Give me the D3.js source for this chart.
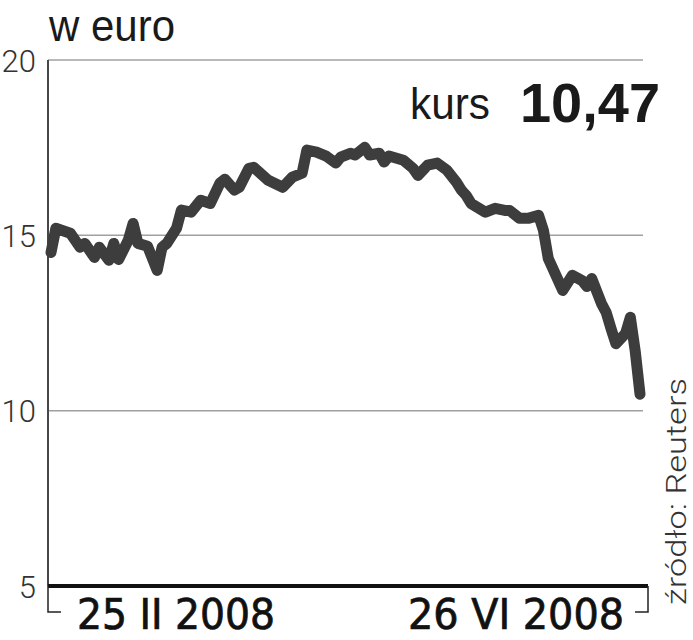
<!DOCTYPE html>
<html>
<head>
<meta charset="utf-8">
<script src="https://cdn.jsdelivr.net/npm/d3@7/dist/d3.min.js"></script>
<style>
  html, body { margin: 0; padding: 0; background: #fff; }
  svg { display: block; }
</style>
</head>
<body>
<svg id="chart" width="693" height="640"></svg>
<script>
// Days since 25 II 2008 (x position of each reading)
const dayOffsets = [0, 1, 4, 6, 7, 9, 10, 12, 13, 14, 16, 17, 18, 20, 22, 23, 24, 26, 27, 29,
  31, 33, 35, 36, 38, 39, 41, 42, 45, 48, 50, 52, 53, 55, 57, 59, 60, 62, 63, 65,
  66, 68, 69, 70, 73, 75, 76, 78, 80, 82, 84, 85, 86, 87, 90, 92, 94, 95, 97, 99,
  101, 102, 103, 106, 108, 110, 111, 112, 114, 115, 116, 117, 119, 120, 121, 122];
// Share price in euro
const prices = [14.51, 15.20, 15.06, 14.66, 14.77, 14.37, 14.66, 14.29, 14.77, 14.31, 14.86, 15.34, 14.77, 14.69, 14.00, 14.66, 14.77, 15.20, 15.72, 15.66,
  16.00, 15.91, 16.49, 16.60, 16.29, 16.37, 16.91, 16.94, 16.57, 16.37, 16.66, 16.77, 17.43, 17.37, 17.26, 17.06, 17.23, 17.34, 17.29, 17.51,
  17.29, 17.34, 17.09, 17.26, 17.14, 16.91, 16.71, 17.00, 17.06, 16.86, 16.51, 16.29, 16.14, 15.91, 15.66, 15.77, 15.71, 15.71, 15.49, 15.49,
  15.57, 15.14, 14.34, 13.43, 13.86, 13.71, 13.54, 13.77, 13.06, 12.80, 12.34, 11.91, 12.20, 12.66, 11.71, 10.47];

const yTicks = [5, 10, 15, 20];
const gridTicks = [10, 15, 20];
const xLabels = ["25 II 2008", "26 VI 2008"];
const unitLabel = "w euro";
const lastLabel = "kurs";
const lastValue = "10,47";
const sourceLabel = "źródło: Reuters";

const svg = d3.select("#chart");

const x = d3.scaleLinear().domain([0, 122]).range([51, 640]);
const y = d3.scaleLinear().domain([5, 20]).range([586, 60]);

const left = 48, gridRight = 643, baseRight = 648;

// gridlines
svg.append("g").selectAll("line").data(gridTicks).join("line")
  .attr("x1", left).attr("x2", gridRight)
  .attr("y1", d => y(d)).attr("y2", d => y(d))
  .attr("stroke", "#a0a0a0").attr("stroke-width", 1.5);

// left axis line
svg.append("line")
  .attr("x1", left).attr("x2", left)
  .attr("y1", y(20)).attr("y2", y(5))
  .attr("stroke", "#474747").attr("stroke-width", 2);

// y tick labels via axis
const yAxis = d3.axisLeft(y).tickValues(yTicks).tickSize(0).tickPadding(0).tickFormat(d3.format("d"));
const gy = svg.append("g").attr("transform", "translate(36,0)").call(yAxis);
gy.select(".domain").remove();
gy.selectAll("text")
  .attr("font-family", "Roboto, 'Liberation Sans', sans-serif")
  .attr("font-weight", 300)
  .attr("font-size", 31)
  .attr("fill", "#333")
  .attr("dy", "0.36em");

// data line
const line = d3.line()
  .x((d, i) => x(dayOffsets[i]))
  .y(d => y(d))
  .curve(d3.curveLinear);
svg.append("path")
  .datum(prices)
  .attr("d", line)
  .attr("fill", "none")
  .attr("stroke", "#3d3d3d")
  .attr("stroke-width", 11)
  .attr("stroke-linejoin", "round")
  .attr("stroke-linecap", "round");

// baseline
svg.append("line")
  .attr("x1", left).attr("x2", baseRight)
  .attr("y1", y(5)).attr("y2", y(5))
  .attr("stroke", "#111").attr("stroke-width", 4);

// brackets
svg.append("path")
  .attr("d", `M${left},${y(5)} V612 H61`)
  .attr("fill", "none").attr("stroke", "#222").attr("stroke-width", 1.5);
svg.append("path")
  .attr("d", `M${baseRight},${y(5)} V612 H635`)
  .attr("fill", "none").attr("stroke", "#222").attr("stroke-width", 1.5);

// x labels
const xFont = "'Liberation Sans Narrow', 'DejaVu Sans Condensed', 'Liberation Sans', sans-serif";
svg.append("text")
  .attr("x", x(0) + 26).attr("y", 629)
  .attr("font-family", xFont).attr("font-size", 42)
  .attr("fill", "#111").attr("stroke", "#111").attr("stroke-width", 0.7)
  .attr("textLength", 198).attr("lengthAdjust", "spacingAndGlyphs")
  .text(xLabels[0]);
svg.append("text")
  .attr("x", x(122) - 16 - 216).attr("y", 629)
  .attr("font-family", xFont).attr("font-size", 42)
  .attr("fill", "#111").attr("stroke", "#111").attr("stroke-width", 0.7)
  .attr("textLength", 216).attr("lengthAdjust", "spacingAndGlyphs")
  .text(xLabels[1]);

// title
svg.append("text")
  .attr("x", 49).attr("y", 41)
  .attr("font-family", "'Liberation Sans', Arial, sans-serif")
  .attr("font-size", 44)
  .attr("fill", "#1a1a1a")
  .attr("textLength", 126).attr("lengthAdjust", "spacingAndGlyphs")
  .text(unitLabel);

// last value annotation
svg.append("text")
  .attr("x", 410).attr("y", 119)
  .attr("font-family", "'Liberation Sans', Arial, sans-serif")
  .attr("font-size", 44)
  .attr("fill", "#1a1a1a")
  .attr("textLength", 80).attr("lengthAdjust", "spacingAndGlyphs")
  .text(lastLabel);
svg.append("text")
  .attr("x", 520).attr("y", 122)
  .attr("font-family", "'Liberation Sans', Arial, sans-serif")
  .attr("font-size", 56)
  .attr("font-weight", "bold")
  .attr("fill", "#1a1a1a")
  .attr("textLength", 140).attr("lengthAdjust", "spacingAndGlyphs")
  .text(lastValue);

// source
svg.append("text")
  .attr("transform", "translate(686,605) rotate(-90)")
  .attr("font-family", "Roboto, 'Liberation Sans', sans-serif")
  .attr("font-weight", 300)
  .attr("font-size", 28)
  .attr("fill", "#333")
  .attr("textLength", 227).attr("lengthAdjust", "spacingAndGlyphs")
  .text(sourceLabel);
</script>
</body>
</html>
